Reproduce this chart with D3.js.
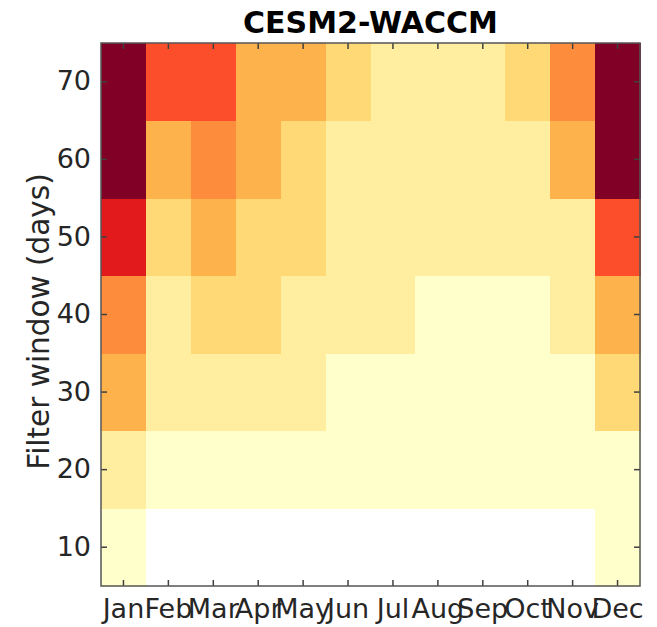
<!DOCTYPE html>
<html>
<head>
<meta charset="utf-8">
<script src="https://cdn.jsdelivr.net/npm/d3@7"></script>
<style>
  html, body { margin: 0; padding: 0; background: #ffffff; }
  svg { display: block; }
  text { font-family: "DejaVu Sans", sans-serif; }
</style>
</head>
<body>
<svg id="chart" width="657" height="627"></svg>
<script>
// Months along the x axis
const months = ["Jan", "Feb", "Mar", "Apr", "May", "Jun", "Jul", "Aug", "Sep", "Oct", "Nov", "Dec"];
// Filter window lengths (days) along the y axis
const windows = [10, 20, 30, 40, 50, 60, 70];
// Colour level per month for each filter window (0 = lowest, 9 = highest)
const level10 = [1, 0, 0, 0, 0, 0, 0, 0, 0, 0, 0, 1];
const level20 = [2, 1, 1, 1, 1, 1, 1, 1, 1, 1, 1, 1];
const level30 = [4, 2, 2, 2, 2, 1, 1, 1, 1, 1, 1, 3];
const level40 = [5, 2, 3, 3, 2, 2, 2, 1, 1, 1, 2, 4];
const level50 = [7, 3, 4, 3, 3, 2, 2, 2, 2, 2, 2, 6];
const level60 = [9, 4, 5, 4, 3, 2, 2, 2, 2, 2, 4, 9];
const level70 = [9, 6, 6, 4, 4, 3, 2, 2, 2, 3, 5, 9];
const levelRows = [level10, level20, level30, level40, level50, level60, level70];
const levelSteps = [0, 1, 2, 3, 4, 5, 6, 7, 8, 9];

const cells = [];
windows.forEach((w, i) => {
  months.forEach((m, j) => cells.push({ month: m, window: w, level: levelRows[i][j] }));
});

const margin = { left: 101, right: 17, top: 43, bottom: 41 };
const W = 657, H = 627;
const innerW = W - margin.left - margin.right;
const innerH = H - margin.top - margin.bottom;

const svg = d3.select("#chart");
const g = svg.append("g").attr("transform", `translate(${margin.left},${margin.top})`);

const x = d3.scaleBand().domain(months).range([0, innerW]).padding(0);
const y = d3.scaleBand().domain(windows.slice().reverse()).range([0, innerH]).padding(0);
const color = d3.scaleOrdinal()
  .domain(levelSteps)
  .range(["#ffffff"].concat(d3.schemeYlOrRd[9]));

g.append("g")
  .attr("shape-rendering", "crispEdges")
  .selectAll("rect")
  .data(cells)
  .join("rect")
  .attr("x", d => x(d.month))
  .attr("y", d => y(d.window))
  .attr("width", x.bandwidth() + 0.5)
  .attr("height", y.bandwidth() + 0.5)
  .attr("fill", d => color(d.level));

const tickLen = 6;
const axisColor = "#404040";
const labelColor = "#262626";

// Bottom axis with labels, ticks pointing inward
const xBottom = g.append("g").attr("transform", `translate(0,${innerH})`)
  .call(d3.axisBottom(x).tickSizeInner(-tickLen).tickSizeOuter(0).tickPadding(14));
// Top axis, ticks only
const xTop = g.append("g")
  .call(d3.axisTop(x).tickSizeInner(-tickLen).tickSizeOuter(0).tickFormat(""));
// Left axis with labels
const yLeft = g.append("g")
  .call(d3.axisLeft(y).tickSizeInner(-tickLen).tickSizeOuter(0).tickPadding(10));
// Right axis, ticks only
const yRight = g.append("g").attr("transform", `translate(${innerW},0)`)
  .call(d3.axisRight(y).tickSizeInner(-tickLen).tickSizeOuter(0).tickFormat(""));

[xBottom, xTop, yLeft, yRight].forEach(a => {
  a.select(".domain").remove();
  a.selectAll(".tick line").attr("stroke", axisColor).attr("stroke-width", 1.5);
  a.selectAll(".tick text").attr("fill", labelColor).style("font-size", "27px")
    .style("font-family", "DejaVu Sans, sans-serif");
});
xBottom.selectAll(".tick text").attr("dy", "0.68em");

// Frame around the plot area
g.append("rect")
  .attr("x", 0).attr("y", 0)
  .attr("width", innerW).attr("height", innerH)
  .attr("fill", "none")
  .attr("stroke", "#555555")
  .attr("stroke-width", 1.5);

// Title
svg.append("text")
  .attr("x", margin.left + innerW / 2)
  .attr("y", 33)
  .attr("text-anchor", "middle")
  .style("font-size", "30px")
  .style("font-weight", "bold")
  .attr("fill", "#000000")
  .text("CESM2-WACCM");

// Y axis title
svg.append("text")
  .attr("transform", `translate(49,${margin.top + innerH / 2 + 7}) rotate(-90)`)
  .attr("text-anchor", "middle")
  .style("font-size", "29.5px")
  .attr("fill", labelColor)
  .text("Filter window (days)");
</script>
</body>
</html>
